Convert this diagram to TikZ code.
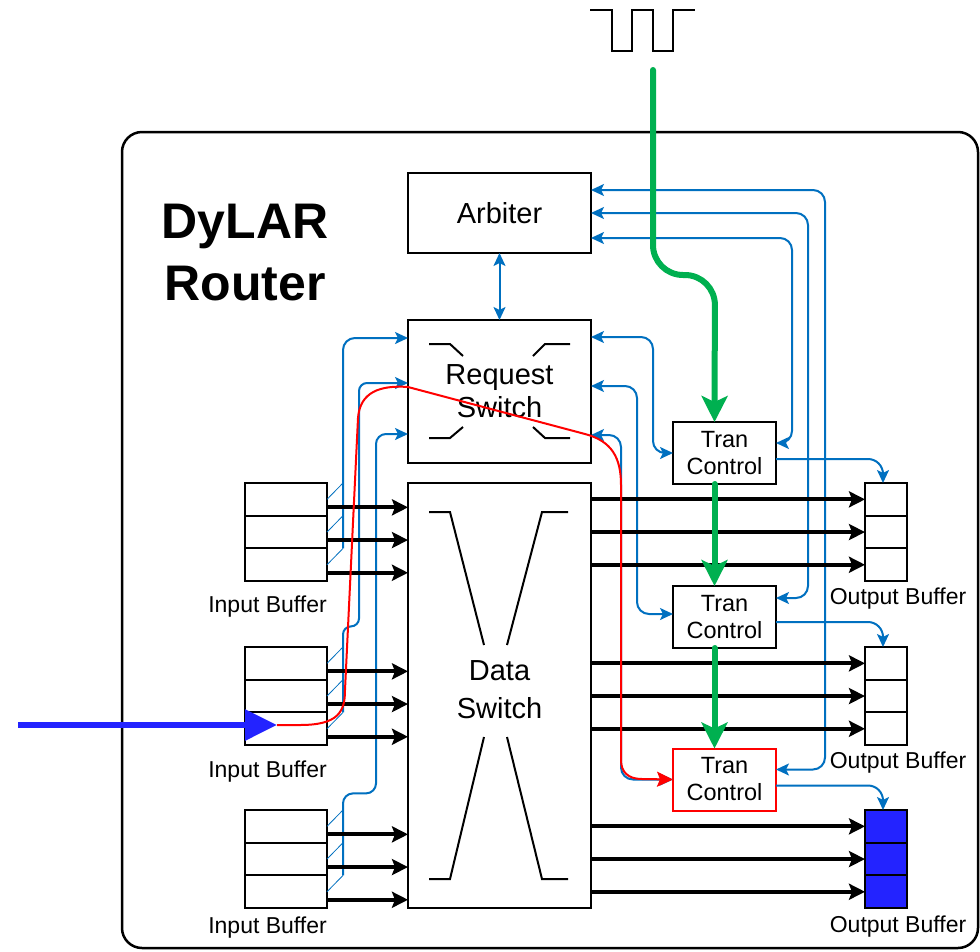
\documentclass[tikz,border=0pt]{standalone}
\usepackage{fontspec}
\setmainfont{Liberation Sans}
\usetikzlibrary{arrows.meta,positioning,calc}
\definecolor{sigblue}{RGB}{0,112,192}
\definecolor{clkgreen}{RGB}{0,176,80}
\definecolor{pktblue}{RGB}{35,35,255}

\begin{document}
\begin{tikzpicture}[x=1pt,y=-1pt,
    box/.style={draw,line width=2pt,inner sep=0pt,outer sep=0pt,align=center,font=\fontsize{29}{33}\selectfont},
    tran/.style={draw,line width=2pt,inner sep=0pt,outer sep=0pt,align=center,minimum width=103pt,minimum height=62pt,font=\fontsize{23.5}{27}\selectfont},
    icell/.style={draw,line width=2pt,minimum width=82pt,minimum height=32.7pt,inner sep=0pt,outer sep=0pt},
    ocell/.style={draw,line width=2pt,minimum width=42pt,minimum height=32.7pt,inner sep=0pt,outer sep=0pt},
    lbl/.style={font=\fontsize{23}{26}\selectfont,inner sep=0pt},
    bus/.style={line width=4pt,-{Stealth[length=16pt,width=16pt,inset=3pt]}},
    sig/.style={line width=2pt,sigblue,rounded corners=12pt,>={Stealth[length=13pt,width=12pt,inset=3pt]}},
    hatch/.style={line width=0.8pt,sigblue},
    clk/.style={line width=6pt,clkgreen,line cap=round,-{Stealth[length=26pt,width=26pt,inset=6pt]}},
    pkt/.style={line width=2pt,red,-{Stealth[length=16pt,width=15pt,inset=3pt]}},
    inflow/.style={line width=6pt,pktblue,-{Triangle[length=32pt,width=30pt]}},
    xbar/.style={line width=2pt}
]
\fill[white] (0,0) rectangle (980,951);
\useasboundingbox (0,0) rectangle (980,951);

% router frame and title
\draw[line width=2.5pt,rounded corners=20pt] (122,132) rectangle (978,948);
\node[font=\bfseries\fontsize{50}{62}\selectfont,align=center] (title) at (245,253) {DyLAR\\Router};

% clock
\draw[line width=2pt] (590,10) -- (612,10) -- (612,51) -- (632,51) -- (632,10) -- (653,10) -- (653,51) -- (673,51) -- (673,10) -- (695,10);

% switches and arbiter
\node[box,minimum width=183pt,minimum height=80pt] (arb) at (499.5,213) {Arbiter};
\node[box,minimum width=183pt,minimum height=143pt] (rs) at (499.5,391.5) {Request\\Switch};
\node[box,minimum width=183pt,minimum height=425pt] (ds) at (499.5,695.5) {};
\node[font=\fontsize{29}{38}\selectfont,align=center] (dstext) at ([yshift=6pt]ds.center) {Data\\Switch};

\draw[xbar] (429,344) -- (450,344) -- (463,356);
\draw[xbar] (533,356) -- (545,344) -- (570,344);
\draw[xbar] (429,438) -- (450,438) -- (463,427);
\draw[xbar] (533,427) -- (545,438) -- (570,438);
\draw[xbar] (429,512) -- (450,512) -- (484,645);
\draw[xbar] (507,645) -- (542,512) -- (568,512);
\draw[xbar] (429,879) -- (450,879) -- (484,737);
\draw[xbar] (507,737) -- (542,879) -- (568,879);

% transfer controls
\node[tran] (tc1) at (724.5,453) {Tran\\Control};
\node[tran] (tc2) at (724.5,617) {Tran\\Control};
\node[tran,draw=red] (tc3) at (724.5,779.5) {Tran\\Control};

% buffers
\foreach \n/\t/\f in {1/483/white,2/647/white,3/810/pktblue}{
    \node[icell] (ib\n a) at (286,\t+16.35) {};
    \node[icell,below=0pt of ib\n a] (ib\n b) {};
    \node[icell,below=0pt of ib\n b] (ib\n c) {};
    \node[ocell,fill=\f] (ob\n a) at (886,\t+16.35) {};
    \node[ocell,fill=\f,below=0pt of ob\n a] (ob\n b) {};
    \node[ocell,fill=\f,below=0pt of ob\n b] (ob\n c) {};
}
\node[lbl,anchor=north east] (ibl1) at ([yshift=-15pt]ib1c.south east) {Input Buffer};
\node[lbl,anchor=north east] (ibl2) at ([yshift=-16pt]ib2c.south east) {Input Buffer};
\node[lbl,anchor=north east] (ibl3) at ([yshift=-9pt]ib3c.south east) {Input Buffer};
\node[lbl,anchor=north] (obl1) at ([xshift=12pt,yshift=-7pt]ob1c.south) {Output Buffer};
\node[lbl,anchor=north] (obl2) at ([xshift=12pt,yshift=-7pt]ob2c.south) {Output Buffer};
\node[lbl,anchor=north] (obl3) at ([xshift=12pt,yshift=-8pt]ob3c.south) {Output Buffer};

% request lines from input buffers
\foreach \n in {1,2,3}
    \foreach \c in {a,b,c}
        \draw[hatch] (ib\n\c.east) -- ([xshift=16pt]ib\n\c.north east);
\draw[sig,->] ([xshift=16pt]ib1c.north east) |- ([yshift=53.5pt]rs.west);
\draw[sig,->,rounded corners=8pt] ([xshift=16pt]ib2c.north east) -- ++(0,-86) -- ++(16,0) |- ([yshift=8.5pt]rs.west);
\draw[sig,->,rounded corners=10pt] ([xshift=16pt]ib3c.north east) -- ++(0,-82) -- ++(33,0) |- ([yshift=-42.5pt]rs.west);

% arbiter and request switch to transfer controls
\draw[sig,<->] (arb.south) -- (rs.north);
\draw[sig,<->] ([yshift=-25pt]arb.east) -- ++(201,0) |- ([yshift=10pt]tc1.east);
\draw[sig,<->] (arb.east) -- ++(217,0) |- ([yshift=19pt]tc2.east);
\draw[sig,<->] ([yshift=23pt]arb.east) -- ++(234,0) |- ([yshift=10pt]tc3.east);
\draw[sig,<->] ([yshift=54.5pt]rs.east) -- ++(62,0) |- (tc1.west);
\draw[sig,<->] ([yshift=5.5pt]rs.east) -- ++(46,0) |- ([yshift=3pt]tc2.west);
\draw[sig,<->] ([yshift=-43.5pt]rs.east) -- ++(30,0) |- (tc3.west);
\draw[sig,->,rounded corners=15pt] ([yshift=-6pt]tc1.east) -| ([xshift=-3pt]ob1a.north);
\draw[sig,->,rounded corners=15pt] ([yshift=-5pt]tc2.east) -| ([xshift=-3pt]ob2a.north);
\draw[sig,->,rounded corners=15pt] ([yshift=-6pt]tc3.east) -| ([xshift=-3pt]ob3a.north);

% data paths
\foreach \n in {1,2,3}
    \foreach \c in {a,b,c}{
        \draw[bus] ([yshift=-8pt]ib\n\c.east) -- ([yshift=-8pt]ds.west |- ib\n\c.east);
        \draw[bus] (ds.east |- ob\n\c.west) -- (ob\n\c.west);
    }

% incoming packet
\coordinate (pktsrc) at (18,725);
\coordinate (pkttip) at (277,725);
\draw[inflow] (pktsrc) -- (pkttip);
\draw[pkt] (pkttip) -- (300,725) .. controls (338,725) and (345,712) .. (345,690) -- (358,418)
    .. controls (360,392) and (380,385) .. (408,387) -- (585,434)
    .. controls (612,441) and (621,458) .. (621,485) -- (621,760)
    .. controls (621,772) and (628,779) .. (642,779) -- (tc3.west);

% clock distribution
\coordinate (clkin) at (653,70);
\draw[clk,rounded corners=30pt] (clkin) -- (653,275) -- (715,275) -- ([xshift=-10pt]tc1.north);
\draw[clk] ([xshift=-10pt]tc1.south) -- ([xshift=-10pt]tc2.north);
\draw[clk] ([xshift=-10pt]tc2.south) -- ([xshift=-10pt]tc3.north);
\end{tikzpicture}
\end{document}
